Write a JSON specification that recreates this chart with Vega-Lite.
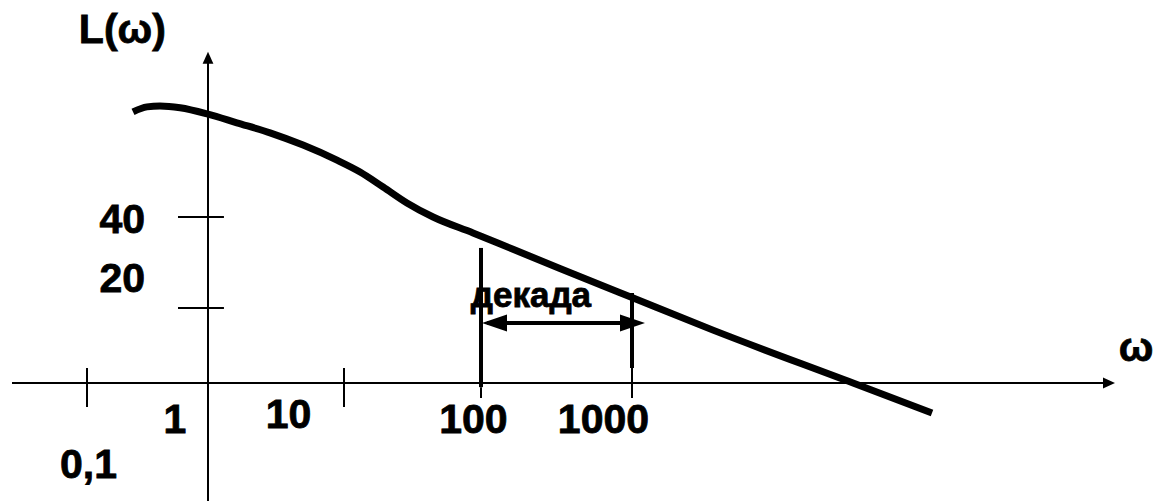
{
  "$schema": "https://vega.github.io/schema/vega-lite/v6.json",
  "width": 1155,
  "height": 501,
  "padding": 0,
  "autosize": {"type": "none"},
  "background": "white",
  "config": {"view": {"stroke": null}},
  "datasets": {
    "thinRules": [
      {"part": "omega axis", "w": 0.024, "L": 0, "w2": 1400000, "L2": 0},
      {"part": "L axis", "w": 1, "L": -32, "w2": 1, "L2": 75},
      {"part": "tick 40", "w": 0.565, "L": 40, "w2": 1.31, "L2": 40},
      {"part": "tick 20", "w": 0.565, "L": 20, "w2": 1.31, "L2": 20},
      {"part": "tick 0.1", "w": 0.1, "L": 4, "w2": 0.1, "L2": -6.4},
      {"part": "tick 10", "w": 10, "L": 4, "w2": 10, "L2": -6.4},
      {"part": "tick 100", "w": 100, "L": -1.1, "w2": 100, "L2": -4},
      {"part": "tick 1000", "w": 1000, "L": 4, "w2": 1000, "L2": -4}
    ],
    "thickRules": [
      {"part": "decade start", "w": 100, "L": 33.2, "w2": 100, "L2": -1.1},
      {"part": "decade end", "w": 1000, "L": 23.3, "w2": 1000, "L2": 4},
      {"part": "decade span", "w": 110, "L": 16, "w2": 1100, "L2": 16}
    ],
    "curve": [
      {"w": 0.24, "L": 63.1},
      {"w": 0.313, "L": 64.2},
      {"w": 0.401, "L": 64.4},
      {"w": 0.588, "L": 64.0},
      {"w": 1, "L": 62.6},
      {"w": 1.63, "L": 60.7},
      {"w": 2.86, "L": 58.5},
      {"w": 5.0, "L": 55.8},
      {"w": 8.88, "L": 52.5},
      {"w": 13.1, "L": 49.9},
      {"w": 19.3, "L": 46.6},
      {"w": 28.8, "L": 43.1},
      {"w": 44.7, "L": 40.0},
      {"w": 87.5, "L": 36.5},
      {"w": 163, "L": 32.9},
      {"w": 333, "L": 28.7},
      {"w": 1000, "L": 22.3},
      {"w": 3440, "L": 14.1},
      {"w": 29100, "L": 0},
      {"w": 97000, "L": -8.0}
    ],
    "arrowUp": [{"w": 1, "L": 76.3}],
    "arrowRight": [{"w": 1580000, "L": 0}],
    "decadeLeft": [{"w": 101.5, "L": 16}],
    "decadeRight": [{"w": 1219, "L": 16}],
    "labels": [
      {"w": 0.196, "L": 78.2, "text": "L(ω)"},
      {"w": 2180000, "L": 5.9, "text": "ω"},
      {"w": 0.196, "L": 36.5, "text": "40"},
      {"w": 0.196, "L": 23.5, "text": "20"},
      {"w": 0.103, "L": -25.3, "text": "0,1"},
      {"w": 0.533, "L": -13.3, "text": "1"},
      {"w": 3.91, "L": -12.0, "text": "10"},
      {"w": 88.1, "L": -13.3, "text": "100"},
      {"w": 647, "L": -13.3, "text": "1000"}
    ],
    "note": [{"w": 214, "L": 20.3, "text": "декада"}]
  },
  "encoding": {
    "x": {
      "field": "w",
      "type": "quantitative",
      "scale": {"type": "log", "domain": [0.1, 1, 10, 100, 1000], "range": [87, 208, 344, 481, 632], "nice": false},
      "axis": null
    },
    "y": {
      "field": "L",
      "type": "quantitative",
      "scale": {"type": "linear", "domain": [0, 20, 40], "range": [383, 308, 217], "nice": false, "zero": false},
      "axis": null
    }
  },
  "layer": [
    {
      "data": {"name": "thinRules"},
      "mark": {"type": "rule", "color": "black", "strokeWidth": 2},
      "encoding": {"x2": {"field": "w2"}, "y2": {"field": "L2"}}
    },
    {
      "data": {"name": "thickRules"},
      "mark": {"type": "rule", "color": "black", "strokeWidth": 4},
      "encoding": {"x2": {"field": "w2"}, "y2": {"field": "L2"}}
    },
    {
      "data": {"name": "curve"},
      "mark": {"type": "line", "color": "black", "strokeWidth": 7, "interpolate": "monotone", "strokeCap": "butt"},
      "encoding": {}
    },
    {
      "data": {"name": "arrowUp"},
      "mark": {"type": "point", "shape": "M0,0L-0.9,2L0.9,2Z", "size": 144, "filled": true, "color": "black", "opacity": 1, "strokeWidth": 0}
    },
    {
      "data": {"name": "arrowRight"},
      "mark": {"type": "point", "shape": "M0,0L-2,-0.9L-2,0.9Z", "size": 144, "filled": true, "color": "black", "opacity": 1, "strokeWidth": 0}
    },
    {
      "data": {"name": "decadeLeft"},
      "mark": {"type": "point", "shape": "M0,0L2,-0.68L2,0.68Z", "size": 625, "filled": true, "color": "black", "opacity": 1, "strokeWidth": 0}
    },
    {
      "data": {"name": "decadeRight"},
      "mark": {"type": "point", "shape": "M0,0L-2,-0.68L-2,0.68Z", "size": 625, "filled": true, "color": "black", "opacity": 1, "strokeWidth": 0}
    },
    {
      "data": {"name": "labels"},
      "mark": {"type": "text", "font": "Liberation Sans", "fontWeight": "bold", "fontSize": 41, "align": "center", "baseline": "alphabetic", "color": "black", "stroke": "black", "strokeWidth": 0.8},
      "encoding": {"text": {"field": "text"}}
    },
    {
      "data": {"name": "note"},
      "mark": {"type": "text", "font": "Liberation Sans", "fontWeight": "bold", "fontSize": 35, "align": "center", "baseline": "alphabetic", "color": "black", "stroke": "black", "strokeWidth": 0.8},
      "encoding": {"text": {"field": "text"}}
    }
  ]
}
